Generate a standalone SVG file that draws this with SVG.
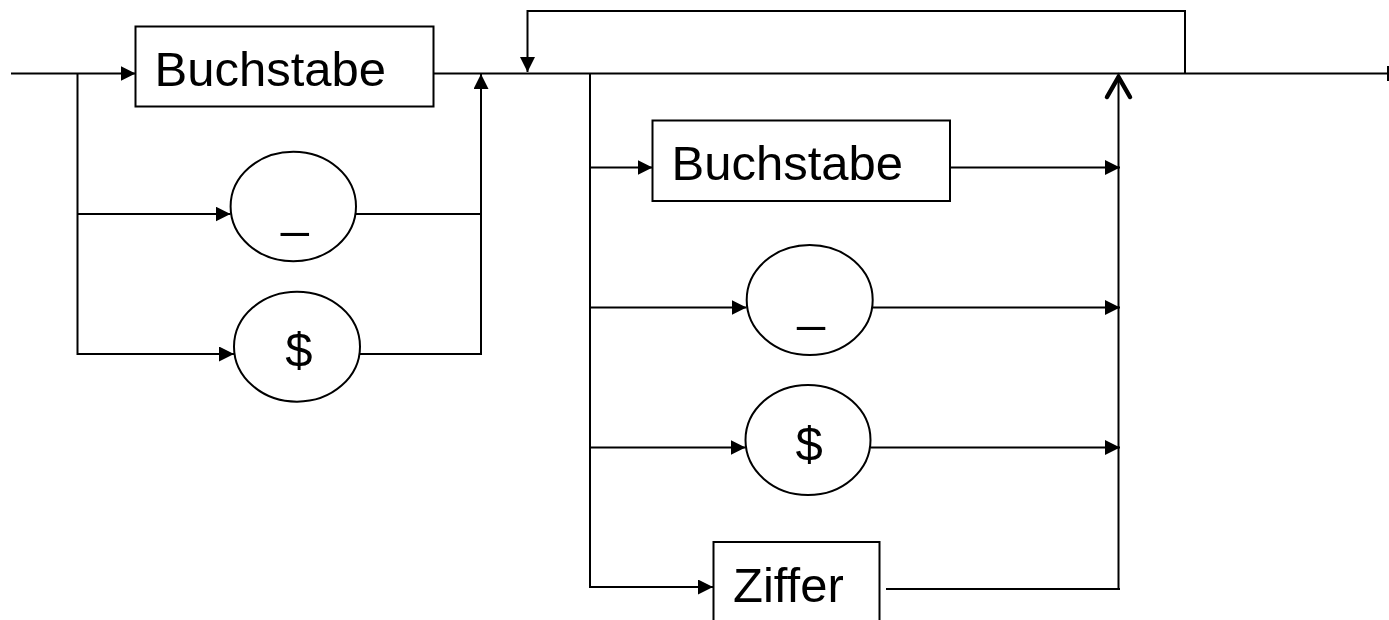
<svg xmlns="http://www.w3.org/2000/svg" width="1389" height="620" viewBox="0 0 1389 620">
<style>
.ln{fill:none;stroke:#000;stroke-width:2}
.box{fill:#fff;stroke:#000;stroke-width:2}
.lbl{font-family:"Liberation Sans",Arial,sans-serif;font-size:49px;fill:#000}
</style>
<defs>
<marker id="arr" viewBox="0 0 15 15" refX="15" refY="7.5" markerWidth="15" markerHeight="15" markerUnits="userSpaceOnUse" orient="auto">
<path d="M0,0 L15,7.5 L0,15 z" fill="#000"/>
</marker>
</defs>
<rect width="1389" height="620" fill="#fff"/>
<g id="connectors">
<!-- entry -->
<path class="ln" d="M11,73.5 H135.5" marker-end="url(#arr)"/>
<path class="ln" d="M77.5,73.5 V354 H234" marker-end="url(#arr)"/>
<path class="ln" d="M77.5,214 H230.5" marker-end="url(#arr)"/>
<path class="ln" d="M356,214 H481"/>
<path class="ln" d="M360,354 H481 V74" marker-end="url(#arr)"/>
<!-- main line -->
<path class="ln" d="M433,73.5 H1388"/>
<path class="ln" d="M1388,66 V81"/>
<!-- loop -->
<path class="ln" d="M1185,73.5 V11 H527.5 V72" marker-end="url(#arr)"/>
<!-- second section branches -->
<path class="ln" d="M590,73.5 V587 H713" marker-end="url(#arr)"/>
<path class="ln" d="M590,167.5 H652.5" marker-end="url(#arr)"/>
<path class="ln" d="M590,307.5 H746.5" marker-end="url(#arr)"/>
<path class="ln" d="M590,447.5 H745.5" marker-end="url(#arr)"/>
<path class="ln" d="M950,167.5 H1120" marker-end="url(#arr)"/>
<path class="ln" d="M872.5,307.5 H1120" marker-end="url(#arr)"/>
<path class="ln" d="M870.5,447.5 H1120" marker-end="url(#arr)"/>
<path class="ln" d="M886,589 H1120"/>
<path class="ln" d="M1118.5,589 V78"/>
<path d="M1107,97 L1118.5,77 L1130,97" fill="none" stroke="#000" stroke-width="4.5" stroke-linecap="round" stroke-linejoin="miter"/>
</g>
<g id="n-buchstabe1">
<rect class="box" x="135.5" y="26.5" width="298" height="80"/>
<text class="lbl" x="154.5" y="86">Buchstabe</text>
</g>
<g id="n-underscore1">
<ellipse class="box" cx="293.3" cy="206.5" rx="62.7" ry="54.7"/>
<text class="lbl" x="281.2" y="226">_</text>
</g>
<g id="n-dollar1">
<ellipse class="box" cx="297" cy="346.7" rx="63" ry="55"/>
<text class="lbl" x="285.3" y="367">$</text>
</g>
<g id="n-buchstabe2">
<rect class="box" x="652.5" y="120.5" width="297.5" height="80.5"/>
<text class="lbl" x="671.5" y="180">Buchstabe</text>
</g>
<g id="n-underscore2">
<ellipse class="box" cx="809.7" cy="300" rx="63" ry="55"/>
<text class="lbl" x="797.5" y="320">_</text>
</g>
<g id="n-dollar2">
<ellipse class="box" cx="808" cy="440" rx="62.5" ry="55"/>
<text class="lbl" x="795.6" y="461">$</text>
</g>
<g id="n-ziffer">
<rect class="box" x="713.5" y="542" width="166" height="100"/>
<text class="lbl" x="733" y="601.7">Ziffer</text>
</g>
</svg>
